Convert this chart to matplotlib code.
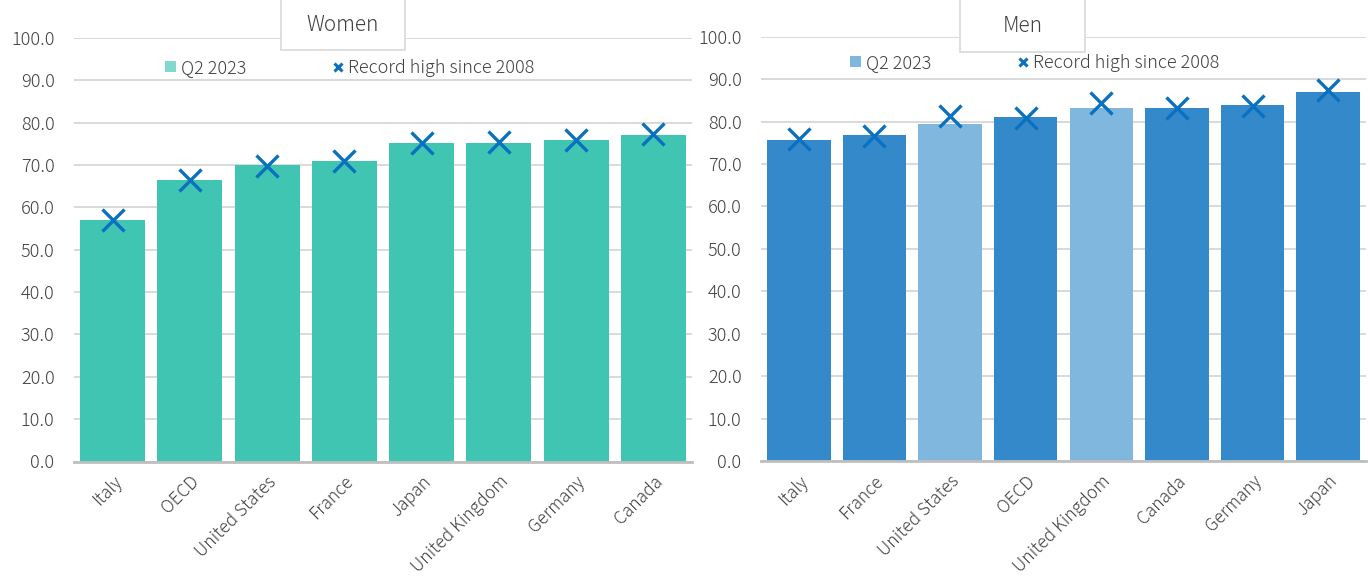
import matplotlib
matplotlib.use("Agg")
import matplotlib.pyplot as plt
from matplotlib.patches import Rectangle, Patch
from matplotlib.lines import Line2D

plt.rcParams['font.family'] = ['Noto Sans CJK JP', 'DejaVu Sans']
plt.rcParams['font.weight'] = 'light'

# Women, Q2 2023 and record high since 2008
women_countries = ["Italy", "OECD", "United States", "France", "Japan",
                   "United Kingdom", "Germany", "Canada"]
women_q2 = [57.0, 66.5, 69.9, 71.0, 75.1, 75.1, 76.0, 77.0]
women_record = [57.1, 66.5, 69.7, 70.9, 75.1, 75.4, 76.0, 77.4]

# Men
men_countries = ["Italy", "France", "United States", "OECD", "United Kingdom",
                 "Canada", "Germany", "Japan"]
men_q2 = [75.7, 76.9, 79.5, 81.1, 83.2, 83.2, 83.9, 86.9]
men_record = [75.9, 76.7, 81.4, 80.8, 84.3, 83.2, 83.6, 87.4]
men_light = ["United States", "United Kingdom"]

y_ticks = [0, 10, 20, 30, 40, 50, 60, 70, 80, 90, 100]

TEAL = "#40C5B3"
TEAL_LEG = "#80D9CC"
BLUE = "#3489CB"
BLUE_LIGHT = "#80B7DE"
MARK = "#0A70C0"
GRID = "#D9D9D9"
TXT = "#404040"

fig = plt.figure(figsize=(13.7, 5.85), dpi=100)


def panel(rect, countries, q2, record, colors, leg_color, title, title_box, leg_pos):
    ax = fig.add_axes(rect)
    x = range(len(countries))
    ax.bar(x, q2, width=0.84, color=colors, zorder=2)
    ax.plot(x, record, linestyle='none', marker='x', markersize=16,
            markeredgewidth=2.4, color=MARK, zorder=3)
    ax.set_xlim(-0.5, len(countries) - 0.5)
    ax.set_ylim(0, 100)
    ax.set_yticks(y_ticks)
    ax.set_yticklabels([f"{v:.1f}" for v in y_ticks], fontsize=13, color=TXT)
    ax.set_xticks(list(x))
    ax.set_xticklabels(countries, rotation=45, ha='right', rotation_mode='anchor',
                       fontsize=12.5, color=TXT)
    ax.tick_params(axis='both', length=0)
    ax.tick_params(axis='y', pad=14)
    ax.tick_params(axis='x', pad=8)
    ax.grid(axis='y', color=GRID, linewidth=1.4, zorder=0)
    for s in ['top', 'right', 'left']:
        ax.spines[s].set_visible(False)
    ax.spines['bottom'].set_color('#BFBFBF')
    ax.spines['bottom'].set_linewidth(2)
    ax.spines['bottom'].set_zorder(4)

    handles = [Patch(facecolor=leg_color, edgecolor='none'),
               Line2D([], [], linestyle='none', marker='x', markersize=6,
                      markeredgewidth=2.2, color=MARK)]
    leg = ax.legend(handles, ["Q2 2023", "Record high since 2008"], ncol=2,
                    frameon=False, loc='center left', bbox_to_anchor=leg_pos,
                    bbox_transform=fig.transFigure, fontsize=13,
                    handlelength=0.6, handleheight=0.6, handletextpad=0.25,
                    columnspacing=4.8)
    for t in leg.get_texts():
        t.set_color(TXT)

    # title box
    bx, by, bw, bh = title_box
    fig.patches.append(Rectangle((bx / 1370, 1 - by / 585), bw / 1370, by / 585 + 0.01,
                                 transform=fig.transFigure, facecolor='white',
                                 edgecolor=GRID, linewidth=1.2, zorder=5))
    fig.text((bx + bw / 2) / 1370, 1 - (by / 2) / 585, title, ha='center', va='center',
             fontsize=15, color=TXT, zorder=6)
    return ax


panel([74 / 1370, 1 - 461.5 / 585, 618 / 1370, 423.5 / 585],
      women_countries, women_q2, women_record, TEAL, TEAL_LEG,
      "Women", (281, 50, 124, 50), (149 / 1370, 1 - 68 / 585))

men_colors = [BLUE_LIGHT if c in men_light else BLUE for c in men_countries]
panel([761 / 1370, 1 - 461 / 585, 605 / 1370, 424.3 / 585],
      men_countries, men_q2, men_record, men_colors, BLUE_LIGHT,
      "Men", (960, 52, 125, 52), (834 / 1370, 1 - 63 / 585))

fig.savefig("out.png", dpi=100, facecolor='white')
